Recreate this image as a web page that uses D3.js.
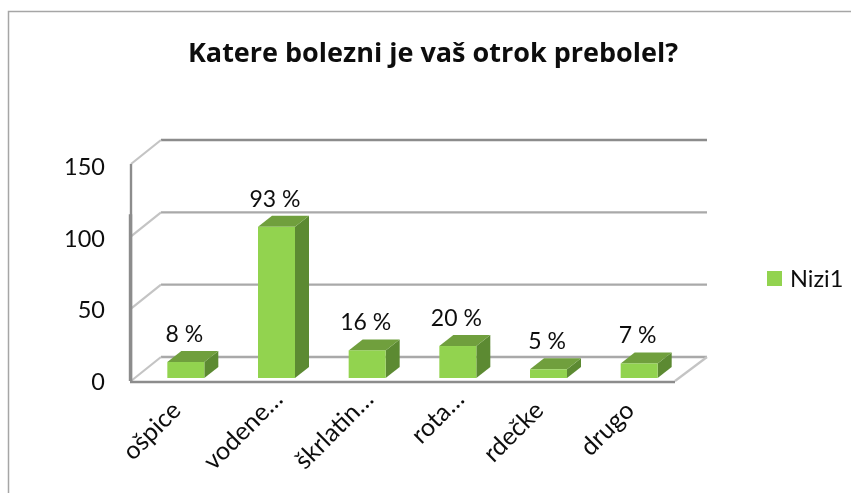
<!DOCTYPE html>
<html><head><meta charset="utf-8">
<script src="https://cdn.jsdelivr.net/npm/d3@7"></script>
<style>html,body{margin:0;background:#fff}svg{display:block}text{font-family:Lato,"Open Sans",sans-serif;fill:#111}</style>
</head><body><div id="c"></div>
<script>
const categories=["ošpice","vodene…","škrlatin…","rota…","rdečke","drugo"];
const values=[11,104,19,22,6,10];
const labels=["8 %","93 %","16 %","20 %","5 %","7 %"];
const ticks=[0,50,100,150];
const title="Katere bolezni je vaš otrok prebolel?";
const seriesName="Nizi1";

const W=851,H=493;
const svg=d3.select("#c").append("svg").attr("width",W).attr("height",H);
const defs=svg.append("defs");
defs.append("filter").attr("id","soft").append("feGaussianBlur").attr("stdDeviation",0.55);
const g=svg.append("g").attr("filter","url(#soft)");

// chart frame
g.append("path").attr("d",`M8.5,${H}V11.5H${W}`).attr("fill","none").attr("stroke","#a6a6a6").attr("stroke-width",1.5);

const depthX=30,depthY=-24;
const x=d3.scaleBand().domain(categories).range([131,675]);
const y=d3.scaleLinear().domain([0,150]).range([381,164]);
const yLabel=d3.scaleLinear().domain([0,150]).range([390,175]);
const backRight=707;

// walls
ticks.forEach(t=>{
  const yy=y(t);
  const stroke=t===150?"#8c8c8c":"#a9a9a9";
  g.append("line").attr("x1",131+depthX).attr("x2",backRight).attr("y1",yy+depthY).attr("y2",yy+depthY)
    .attr("stroke",stroke).attr("stroke-width",2.4);
  g.append("line").attr("x1",131).attr("x2",131+depthX).attr("y1",yy).attr("y2",yy+depthY)
    .attr("stroke","#c4c4c4").attr("stroke-width",2.2);
});
g.append("line").attr("x1",675).attr("x2",backRight).attr("y1",y(0)).attr("y2",y(0)+depthY)
  .attr("stroke","#c4c4c4").attr("stroke-width",2.2);
g.append("line").attr("x1",131).attr("x2",131).attr("y1",y(0)).attr("y2",y(150))
  .attr("stroke","#8c8c8c").attr("stroke-width",2.4);
g.append("line").attr("x1",130.5).attr("x2",130.5).attr("y1",y(0)).attr("y2",y(100)-22)
  .attr("stroke","#8c8c8c").attr("stroke-width",3.4);
g.append("line").attr("x1",130).attr("x2",675).attr("y1",y(0)+1).attr("y2",y(0)+1)
  .attr("stroke","#8c8c8c").attr("stroke-width",2.6);

// bars
const barW=37,dx=14,dy=-11,base=378,shift=9.5;
const h=d3.scaleLinear().domain([0,150]).range([0,218]);
const bars=g.selectAll("g.bar").data(categories).join("g").attr("class","bar");
const barLeft=c=>x(c)+x.bandwidth()/2-barW/2+shift;
const barTop=(i)=>base-h(values[i]);
bars.append("path").attr("fill","#5c8a33").attr("d",(c,i)=>{
  const l=barLeft(c)+barW,t=barTop(i);
  return `M${l},${t}l${dx},${dy}V${base+dy}l${-dx},${-dy}Z`;});
bars.append("path").attr("fill","#6f9f3d").attr("d",(c,i)=>{
  const l=barLeft(c),t=barTop(i);
  return `M${l},${t}l${dx},${dy}h${barW}l${-dx},${-dy}Z`;});
bars.append("rect").attr("fill","#92d34f").attr("x",c=>barLeft(c)).attr("y",(c,i)=>barTop(i)).attr("width",barW).attr("height",(c,i)=>h(values[i]));

// data labels
g.selectAll("text.dl").data(labels).join("text").attr("class","dl")
  .attr("x",(d,i)=>barLeft(categories[i])+barW/2-1.5).attr("y",(d,i)=>barTop(i)+dy-9)
  .attr("text-anchor","middle").attr("font-size",23).text(d=>d);

// y labels
g.selectAll("text.yl").data(ticks).join("text").attr("class","yl")
  .attr("x",105).attr("y",t=>yLabel(t)).attr("text-anchor","end").attr("font-size",23.5).text(t=>t);

// x labels
g.selectAll("text.xl").data(categories).join("text").attr("class","xl")
  .attr("transform",c=>`translate(${x(c)+x.bandwidth()/2+6},412) rotate(-45)`)
  .attr("dx",c=>c.endsWith("…")?16:0)
  .attr("text-anchor","end").attr("font-size",25).text(c=>c);

// title
g.append("text").attr("x",433).attr("y",62).attr("text-anchor","middle").attr("font-size",27).attr("font-weight",700)
  .style("font-family",'"Open Sans",sans-serif').text(title);

// legend
g.append("rect").attr("x",767).attr("y",271).attr("width",15).attr("height",15).attr("fill","#92d34f");
g.append("text").attr("x",790).attr("y",287).attr("font-size",23.5).text(seriesName);
</script></body></html>
